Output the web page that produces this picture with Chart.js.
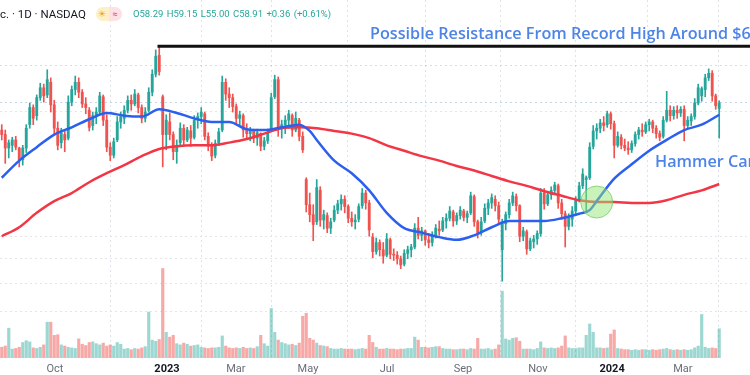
<!DOCTYPE html>
<html>
<head>
<meta charset="utf-8">
<script src="https://cdn.jsdelivr.net/npm/chart.js@4.4.1/dist/chart.umd.min.js"></script>
<style>
  body { margin: 0; background: #fff; }
  #wrap { position: relative; width: 750px; height: 375px; overflow: hidden; }
  #hdr { position: absolute; left: 0; top: 3px; white-space: nowrap; font-family: Roboto, sans-serif; }
  #hdr .sym { font-size: 11.5px; color: #131722; vertical-align: middle; }
  #hdr .pill { display: inline-block; margin-left: 10px; height: 14px; border-radius: 7px; overflow: hidden; vertical-align: middle; font-size: 9px; line-height: 14px; }
  #hdr .pill span { display: inline-block; width: 13px; text-align: center; }
  #hdr .ohlc { margin-left: 11px; font-size: 9.5px; color: #26a69a; vertical-align: middle; word-spacing: 1px; }
  .note { position: absolute; white-space: nowrap; font-family: "Open Sans", sans-serif; font-weight: 600; color: #4d84e6; }
</style>
</head>
<body>
<div id="wrap">
  <canvas id="chart" width="750" height="375"></canvas>
  <div id="hdr">
    <span class="sym">c. · 1D · NASDAQ</span><span class="pill"><span style="background:#fdf0c4;color:#f0a020">☀</span><span style="background:#fde1e7;color:#e04070">≈</span></span><span class="ohlc">O58.29 H59.15 L55.00 C58.91 +0.36 (+0.61%)</span>
  </div>
  <div class="note" style="left:370px;top:22px;font-size:16.2px">Possible Resistance From Record High Around $65</div>
  <div class="note" style="left:655px;top:150px;font-size:16.2px">Hammer Candle</div>
</div>
<script>
// two-session candles, index 0 = late Aug 2022, last = early Apr 2024
const opens = [
  55.9, 55.4, 53.9, 54.2, 54.8, 53.9, 52.6, 53.9, 56.5, 58.4,
  57.5, 59.5, 60.6, 59.8, 61.2, 58.7, 56.1, 54.5, 55.4, 55.0,
  59.0, 60.4, 61.2, 60.1, 58.8, 58.1, 56.4, 57.4, 57.9, 59.6,
  57.0, 54.0, 53.1, 54.8, 56.8, 57.2, 58.1, 59.2, 58.8, 59.8,
  58.4, 57.2, 58.1, 60.1, 62.1, 64.2, 59.6, 55.4, 56.8, 55.4,
  53.5, 54.5, 56.1, 54.8, 55.8, 55.1, 57.0, 57.4, 57.7, 55.2,
  54.1, 53.1, 54.5, 55.9, 61.2, 59.9, 59.5, 58.5, 57.2, 57.5,
  55.9, 55.5, 55.8, 55.0, 55.5, 54.1, 54.7, 55.9, 59.6, 61.5,
  56.1, 56.5, 57.0, 57.5, 55.9, 57.0, 55.2, 50.4, 47.6, 46.5,
  45.7, 49.2, 45.9, 46.4, 45.0, 45.9, 47.0, 47.7, 48.2, 47.4,
  46.1, 45.7, 46.0, 47.5, 48.9, 47.8, 44.0, 42.4, 43.4, 42.6,
  42.0, 43.7, 42.1, 42.0, 41.6, 41.0, 42.2, 42.6, 42.9, 45.0,
  44.2, 44.7, 43.7, 43.4, 44.2, 44.9, 44.8, 45.8, 46.1, 46.8,
  45.8, 46.4, 46.9, 46.2, 46.7, 48.5, 45.7, 44.5, 45.8, 47.2,
  47.8, 48.2, 47.5, 42.6, 45.5, 46.5, 47.8, 48.5, 47.5, 44.1,
  44.6, 42.7, 43.5, 43.8, 44.4, 48.9, 47.7, 48.7, 49.2, 49.7,
  47.8, 46.6, 45.2, 46.0, 46.9, 48.1, 49.7, 50.4, 50.6, 54.1,
  55.8, 56.1, 56.7, 56.5, 57.7, 56.6, 54.2, 55.1, 54.2, 53.9,
  53.7, 54.4, 55.4, 55.9, 55.7, 56.5, 56.8, 56.1, 55.5, 55.2,
  57.0, 58.1, 57.5, 58.1, 57.8, 58.2, 56.4, 56.9, 57.4, 58.9,
  59.7, 60.4, 61.7, 62.2, 59.7, 58.29
];
const highs = [
  56.5, 55.9, 54.8, 55.1, 55.2, 54.0, 54.2, 56.5, 58.9, 58.7,
  59.8, 61.1, 61.0, 62.6, 61.7, 59.2, 56.8, 56.1, 55.9, 59.7,
  60.8, 61.9, 61.7, 60.4, 59.5, 58.4, 57.9, 58.4, 60.1, 59.8,
  57.6, 54.5, 55.0, 57.4, 57.9, 58.6, 59.7, 59.8, 60.4, 60.0,
  58.7, 58.4, 60.6, 62.6, 64.8, 65.1, 59.8, 57.6, 57.8, 55.7,
  54.8, 56.7, 56.5, 56.2, 56.4, 57.5, 57.8, 58.4, 57.9, 55.6,
  54.5, 54.8, 56.1, 61.9, 61.6, 60.6, 59.9, 58.8, 58.0, 57.7,
  56.6, 56.2, 56.0, 56.0, 55.6, 55.1, 56.0, 60.0, 62.0, 61.8,
  57.0, 57.5, 58.1, 57.7, 57.9, 57.2, 55.7, 50.6, 48.9, 47.6,
  50.4, 49.6, 47.0, 46.7, 46.1, 47.5, 48.1, 48.7, 48.6, 47.6,
  46.8, 46.5, 47.7, 49.4, 49.2, 48.1, 44.4, 43.9, 43.7, 43.4,
  44.4, 43.9, 42.7, 42.4, 41.9, 42.6, 43.0, 43.2, 45.5, 46.2,
  45.1, 44.8, 44.4, 44.6, 45.4, 45.8, 46.2, 46.6, 47.4, 47.0,
  46.7, 47.4, 47.1, 46.9, 49.0, 48.7, 45.9, 46.2, 47.7, 48.2,
  48.8, 48.6, 47.9, 46.0, 46.8, 48.2, 49.0, 48.8, 47.6, 45.1,
  44.8, 43.9, 44.2, 44.7, 49.4, 49.4, 49.1, 49.6, 50.1, 49.9,
  48.2, 46.9, 46.6, 47.4, 48.5, 50.1, 51.6, 50.8, 54.5, 56.4,
  56.6, 57.1, 57.4, 58.0, 57.9, 56.9, 55.7, 55.4, 54.9, 54.6,
  54.7, 55.7, 56.2, 56.6, 56.8, 57.1, 57.0, 56.4, 55.8, 57.4,
  60.2, 58.6, 58.5, 58.6, 58.5, 58.6, 57.4, 57.7, 59.4, 61.0,
  60.7, 62.1, 62.7, 62.5, 59.9, 59.15
];
const lows = [
  54.8, 52.2, 52.8, 53.5, 53.7, 51.8, 52.0, 53.4, 56.1, 56.5,
  57.0, 59.2, 59.0, 59.5, 57.9, 55.4, 53.7, 53.9, 53.5, 54.8,
  58.6, 59.8, 59.5, 58.4, 57.7, 55.8, 55.9, 56.6, 57.7, 56.4,
  53.5, 52.5, 52.8, 54.6, 56.1, 56.6, 57.8, 58.1, 58.6, 57.8,
  56.7, 56.8, 57.9, 59.7, 61.8, 62.0, 51.8, 53.7, 54.8, 52.6,
  52.2, 54.1, 54.2, 54.6, 54.1, 54.9, 56.1, 56.6, 54.8, 53.6,
  52.5, 52.8, 54.2, 55.7, 59.2, 58.4, 57.9, 56.6, 56.4, 55.1,
  55.0, 54.7, 54.5, 54.2, 53.6, 53.7, 54.4, 55.7, 59.4, 55.2,
  55.0, 55.5, 56.1, 55.2, 55.7, 54.7, 53.4, 46.8, 45.7, 43.6,
  45.4, 45.2, 44.9, 44.5, 44.4, 45.7, 46.6, 47.0, 46.7, 45.6,
  45.2, 44.9, 45.7, 47.2, 47.1, 44.1, 41.7, 42.1, 41.9, 41.1,
  41.8, 41.6, 41.4, 41.0, 40.5, 40.8, 41.6, 41.8, 42.7, 43.8,
  43.6, 43.1, 42.8, 43.0, 43.9, 44.2, 44.6, 45.0, 45.8, 45.2,
  45.4, 46.0, 45.8, 45.6, 46.5, 45.2, 43.9, 44.2, 45.6, 46.5,
  47.2, 46.9, 45.6, 39.1, 44.8, 46.1, 47.5, 46.9, 43.5, 43.6,
  42.1, 42.5, 42.8, 43.2, 44.1, 47.1, 47.5, 48.2, 48.8, 47.2,
  46.0, 42.9, 44.8, 45.2, 46.4, 47.9, 49.4, 46.9, 50.4, 53.8,
  54.9, 55.6, 55.8, 56.2, 56.0, 52.8, 54.0, 53.8, 53.6, 53.2,
  53.4, 54.1, 54.9, 55.2, 55.5, 55.8, 55.6, 55.0, 54.7, 55.0,
  56.8, 56.9, 57.1, 57.2, 57.4, 54.7, 56.0, 56.4, 57.1, 58.7,
  59.1, 59.6, 61.4, 59.1, 58.2, 55.00
];
const closes = [
  55.4, 53.9, 54.5, 54.8, 54.0, 52.6, 53.9, 56.1, 58.4, 57.2,
  59.5, 60.6, 59.7, 61.5, 58.7, 56.1, 54.2, 55.6, 54.8, 59.0,
  60.4, 61.2, 60.1, 58.8, 58.4, 56.2, 57.5, 57.9, 59.7, 57.0,
  54.0, 53.1, 54.6, 56.8, 57.4, 58.1, 59.2, 58.8, 59.9, 58.4,
  57.2, 57.9, 60.1, 62.1, 64.1, 62.4, 55.4, 57.0, 55.4, 53.5,
  54.2, 56.1, 54.8, 55.9, 55.0, 57.0, 57.4, 57.9, 55.2, 54.1,
  53.0, 54.4, 55.7, 61.2, 59.9, 59.5, 58.5, 57.2, 57.6, 55.9,
  55.5, 55.8, 55.0, 55.6, 54.1, 54.7, 55.6, 59.5, 61.5, 56.1,
  56.5, 57.0, 57.7, 55.9, 57.2, 55.2, 53.7, 47.6, 46.5, 45.4,
  49.5, 45.9, 46.5, 45.0, 45.7, 47.0, 47.7, 48.2, 47.4, 46.1,
  45.7, 45.9, 47.4, 48.9, 47.8, 44.8, 42.4, 43.4, 42.6, 41.9,
  43.8, 42.1, 42.0, 41.6, 40.9, 42.2, 42.6, 42.9, 45.0, 44.2,
  44.7, 43.7, 43.4, 44.2, 45.0, 44.7, 45.8, 46.1, 46.9, 45.8,
  46.4, 47.0, 46.2, 46.6, 48.6, 45.7, 44.5, 45.7, 47.2, 47.8,
  48.4, 47.5, 46.0, 45.5, 46.5, 47.8, 48.6, 47.5, 44.1, 44.7,
  42.7, 43.6, 43.8, 44.4, 48.9, 47.7, 48.7, 49.2, 49.8, 47.8,
  46.6, 45.2, 46.1, 46.9, 48.1, 49.7, 51.0, 50.6, 54.0, 55.8,
  56.1, 56.7, 56.4, 57.7, 56.6, 54.2, 55.2, 54.2, 53.9, 53.7,
  54.4, 55.4, 55.9, 55.7, 56.5, 56.8, 56.1, 55.5, 55.1, 57.0,
  58.1, 57.5, 58.1, 57.8, 58.2, 56.4, 57.0, 57.4, 58.9, 60.6,
  60.5, 61.7, 62.2, 59.7, 58.6, 58.91
];
// volume in millions
const volumes = [
  1.8, 2.0, 5.0, 1.5, 1.6, 1.8, 2.6, 2.9, 2.7, 1.7,
  1.6, 1.8, 2.2, 6.0, 6.0, 3.8, 3.9, 2.2, 2.0, 1.8,
  1.7, 1.6, 3.2, 2.3, 2.1, 2.6, 2.7, 2.4, 2.2, 2.5,
  2.0, 2.2, 2.0, 2.6, 2.3, 1.5, 1.6, 1.4, 1.6, 1.5,
  1.7, 1.9, 7.7, 3.0, 2.8, 3.1, 15.0, 4.3, 3.5, 3.8,
  2.4, 2.2, 2.5, 2.3, 2.0, 2.1, 2.2, 1.8, 1.7, 1.6,
  1.7, 1.7, 1.8, 3.7, 2.0, 1.7, 1.6, 1.7, 1.6, 1.8,
  1.6, 1.7, 1.6, 1.9, 3.8, 2.4, 2.0, 8.3, 4.3, 3.0,
  2.6, 2.4, 2.2, 2.3, 2.1, 2.5, 7.0, 7.5, 3.3, 3.0,
  2.5, 2.1, 2.0, 1.9, 1.6, 1.5, 1.5, 1.6, 1.5, 1.5,
  1.5, 1.4, 1.5, 1.6, 1.5, 3.8, 2.6, 1.8, 1.5, 1.5,
  1.6, 1.5, 1.5, 1.4, 1.5, 1.5, 1.6, 1.6, 3.5, 3.0,
  1.8, 1.8, 1.7, 1.8, 1.9, 1.9, 1.6, 1.5, 1.5, 1.4,
  1.4, 1.5, 1.5, 1.4, 1.6, 1.5, 3.3, 1.5, 1.5, 1.6,
  1.4, 1.5, 2.2, 11.2, 3.2, 3.0, 3.3, 3.4, 2.8, 1.5,
  1.5, 1.5, 1.4, 1.6, 2.7, 1.7, 1.6, 1.7, 1.6, 1.7,
  2.0, 3.7, 1.7, 1.6, 1.6, 1.7, 1.7, 3.8, 5.7, 4.3,
  1.7, 1.7, 1.6, 1.7, 4.0, 4.7, 1.6, 1.5, 1.4, 1.4,
  1.3, 1.4, 1.3, 1.4, 1.4, 1.3, 1.4, 1.3, 1.4, 1.5,
  1.6, 1.4, 1.3, 1.4, 1.3, 1.4, 1.3, 1.4, 1.7, 2.0,
  7.3, 1.8, 1.6, 1.7, 1.6, 4.9
];

// moving averages, read at every fifth candle
const ma50Idx = [0, 5, 10, 15, 20, 25, 30, 35, 40, 45, 50, 55, 60, 65, 70, 75, 80, 85, 88,
  90, 95, 100, 105, 110, 115, 120, 125, 130, 135, 140, 145, 150, 155, 160, 165, 168,
  170, 175, 180, 185, 190, 195, 200, 205];
const ma50 = [50.6, 52.5, 54.0, 55.4, 56.2, 57.1, 57.8, 57.5, 57.4, 58.2, 57.8, 57.2, 56.8, 56.8,
  56.0, 55.9, 56.2, 56.5, 55.8, 54.8, 52.5, 51.1, 49.2, 46.7, 45.0, 44.5, 44.0, 43.7, 44.2,
  45.1, 45.8, 45.8, 45.8, 46.1, 46.6, 47.0, 48.0, 50.5, 52.1, 53.6, 54.8, 55.9, 56.5, 57.6];
const ma200Idx = [0, 5, 10, 15, 20, 25, 30, 35, 40, 45, 50, 55, 60, 65, 70, 75, 80, 85, 90, 95,
  100, 105, 110, 115, 120, 125, 130, 135, 140, 145, 150, 155, 160, 165, 170, 175, 180, 185,
  190, 195, 200, 205];
const ma200 = [44.1, 45.1, 46.7, 48.0, 48.9, 50.1, 51.1, 52.0, 53.0, 53.8, 54.1, 54.2, 54.2, 54.5,
  54.9, 55.5, 56.1, 56.2, 56.1, 55.8, 55.5, 55.0, 54.2, 53.6, 53.0, 52.5, 51.9, 51.4, 50.8,
  50.2, 49.7, 49.1, 48.6, 48.1, 47.9, 47.9, 47.8, 47.8, 48.1, 48.7, 49.2, 49.9];

// month ticks (in candle units) and labels
const tickPos = [15.2, 47.2, 66.9, 87.5, 110.1, 131.8, 153.2, 174.4, 194.6];
const tickLabels = ['Oct', '2023', 'Mar', 'May', 'Jul', 'Sep', 'Nov', '2024', 'Mar'];

// horizontal grid levels (price)
const gridPrices = [63.1, 59.0, 58.0, 44.1, 41.6, 38.9, 35.7];

const recordHigh = 65.2;
const recordIdx = 44.5;
const hammerIdx = 170;
const hammerPrice = 47.9;

const GREEN = '#26a69a';
const RED = '#ef5350';
const isUp = closes.map((c, i) => c >= opens[i]);
const candleCol = isUp.map(u => u ? GREEN : RED);
const volCol = isUp.map(u => u ? 'rgba(38,166,154,0.45)' : 'rgba(239,83,80,0.5)');

const lastIdx = 213.8;

new Chart(document.getElementById('chart'), {
  type: 'bar',
  data: {
    datasets: [
      {
        label: 'Volume', yAxisID: 'v', order: 6, grouped: false, barThickness: 2.5,
        data: volumes.map((v, i) => ({ x: i, y: v })),
        backgroundColor: volCol
      },
      {
        label: 'Wick', yAxisID: 'y', order: 5, grouped: false, barThickness: 1,
        data: lows.map((l, i) => ({ x: i, y: [l, highs[i]] })),
        backgroundColor: candleCol
      },
      {
        label: 'Body', yAxisID: 'y', order: 4, grouped: false, barThickness: 2.2, minBarLength: 1,
        data: opens.map((o, i) => ({ x: i, y: [o, closes[i]] })),
        backgroundColor: candleCol
      },
      {
        type: 'line', label: 'MA200', yAxisID: 'y', order: 3,
        data: ma200Idx.map((x, i) => ({ x: x, y: ma200[i] })),
        borderColor: '#f23645', borderWidth: 2.5, pointRadius: 0, cubicInterpolationMode: 'monotone'
      },
      {
        type: 'line', label: 'MA50', yAxisID: 'y', order: 2,
        data: ma50Idx.map((x, i) => ({ x: x, y: ma50[i] })),
        borderColor: '#2a5ff0', borderWidth: 2.5, pointRadius: 0, cubicInterpolationMode: 'monotone'
      },
      {
        type: 'line', label: 'Resistance', yAxisID: 'y', order: 1,
        data: [{ x: recordIdx, y: recordHigh }, { x: lastIdx, y: recordHigh }],
        borderColor: '#111', borderWidth: 3, pointRadius: 0
      },
      {
        type: 'scatter', label: 'Hammer', yAxisID: 'y', order: 0,
        data: [{ x: hammerIdx, y: hammerPrice }],
        pointRadius: 16, backgroundColor: 'rgba(150,230,120,0.5)', borderColor: 'rgba(110,200,90,0.7)', borderWidth: 1
      }
    ]
  },
  options: {
    responsive: false,
    animation: false,
    devicePixelRatio: 1,
    layout: { padding: 0, autoPadding: false },
    plugins: { legend: { display: false }, tooltip: { enabled: false } },
    scales: {
      x: {
        type: 'linear', min: -0.5, max: lastIdx, offset: false,
        afterBuildTicks: s => { s.ticks = tickPos.map(v => ({ value: v })); },
        afterFit: s => { s.height = 17; },
        grid: { color: '#dfe2e8', drawTicks: false },
        border: { display: false, dash: [2, 3] },
        ticks: {
          autoSkip: false, maxRotation: 0, padding: 5,
          callback: (v, i) => tickLabels[i],
          color: c => /^\d{4}$/.test(tickLabels[c.index]) ? '#131722' : '#6a6d78',
          font: c => ({ family: 'Roboto, sans-serif', size: 11, weight: /^\d{4}$/.test(tickLabels[c.index]) ? 'bold' : 'normal' })
        }
      },
      y: {
        position: 'left', min: 30.57, max: 70.35,
        afterBuildTicks: s => { s.ticks = gridPrices.map(v => ({ value: v })); },
        afterFit: s => { s.width = 0; },
        ticks: { display: false },
        grid: {
          drawTicks: false,
          color: c => c.index === 0 ? 'rgba(240,150,150,0.45)' : (c.index === 1 ? 'rgba(140,180,215,0.55)' : '#e3e5ea')
        },
        border: { display: false, dash: [2, 3] }
      },
      v: {
        display: false, min: 0, max: 60
      }
    }
  }
});
</script>
</body>
</html>
